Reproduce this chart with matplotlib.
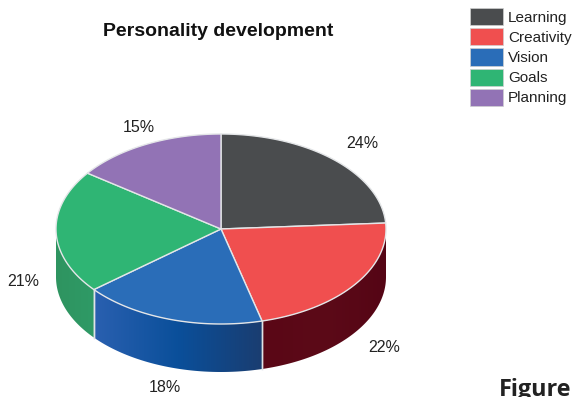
#!/usr/bin/env python3

# 3D looking pie chart, drawn by hand from polygons

import numpy as np
import matplotlib
matplotlib.use('Agg')
import matplotlib.pyplot as plt
from matplotlib.patches import Polygon, Patch
from matplotlib.colors import LinearSegmentedColormap

categories = ['Learning', 'Creativity', 'Vision', 'Goals', 'Planning']
values = [24, 22, 18, 21, 15]
colors = ['#4a4c4e', '#f04f4f', '#2a6db8', '#2fb574', '#9273b5']
# side wall colours, from left to right
side_colors = [['#333333', '#333333'],
               ['#5a0716', '#5c0a18', '#550515'],
               ['#2a60b0', '#0a4f9a', '#1a3d70'],
               ['#2e9460', '#2f9a66'],
               ['#6a5590', '#6a5590']]
pct_labels = ['24%', '22%', '18%', '21%', '15%']

plt.rcParams['font.family'] = ['Liberation Sans', 'DejaVu Sans']

# geometry in pixels
cx, cy = 221, 229
rx, ry = 165, 95
depth = 48

fig = plt.figure(figsize=(5.72, 3.97), dpi=100)
ax = fig.add_axes([0, 0, 1, 1])


def rim(t):
    # t = angle in radians, clockwise from the top
    return cx + rx*np.sin(t), cy - ry*np.cos(t)


fracs = np.array(values) / np.sum(values)
edges = np.concatenate(([0], np.cumsum(fracs))) * 2*np.pi

# side walls, a horizontal gradient clipped to the wall shape
for i in range(len(values)):
    a = max(edges[i], np.pi/2)
    b = min(edges[i+1], 3*np.pi/2)
    if b <= a:
        continue
    x, y = rim(np.linspace(a, b, 100))
    pts = np.column_stack((np.r_[x, x[::-1]], np.r_[y, y[::-1]+depth]))
    wall = Polygon(pts, closed=True, fc='none', ec='none')
    ax.add_patch(wall)
    cmap = LinearSegmentedColormap.from_list('side', side_colors[i])
    grad = np.linspace(0, 1, 256)[None, :]
    im = ax.imshow(grad, cmap=cmap, aspect='auto', zorder=2,
                   extent=[x.min(), x.max(), pts[:, 1].max(), pts[:, 1].min()])
    im.set_clip_path(wall)
    # separator lines at the ends of the wall
    for t in (edges[i], edges[i+1]):
        if np.pi/2 < t < 3*np.pi/2:
            x0, y0 = rim(t)
            ax.plot([x0, x0], [y0, y0+depth], color='#dfe3e6', lw=1, zorder=3)

# top face
for i in range(len(values)):
    tt = np.linspace(edges[i], edges[i+1], 100)
    x, y = rim(tt)
    pts = np.column_stack((np.r_[cx, x], np.r_[cy, y]))
    ax.add_patch(Polygon(pts, closed=True, fc=colors[i], ec='#e4e6e8', lw=1, zorder=4))

ax.set_xlim(0, 572)
ax.set_ylim(397, 0)
ax.axis('off')

# percent labels
label_xy = [(362, 144), (384, 348), (165, 387), (23, 281), (139, 127)]
for s, (x, y) in zip(pct_labels, label_xy):
    ax.text(x, y, s, fontsize=11.5, color='#222222', ha='center', va='center')

ax.text(218.5, 31, 'Personality development', fontsize=14, fontweight='bold',
        color='#111111', ha='center', va='center')

handles = [Patch(fc=c, ec='#cfcfcf', lw=0.5) for c in colors]
ax.legend(handles, categories, loc='upper left', bbox_to_anchor=(470/572, 1 - 8/397),
          frameon=False, fontsize=11, borderpad=0, borderaxespad=0,
          handlelength=2.16, handleheight=1.35, handletextpad=0.33, labelspacing=0.2,
          labelcolor='#222222')

ax.text(499, 396, 'Figure', fontsize=16.8, fontweight='bold', family=['Open Sans', 'DejaVu Sans'],
        color='#222222', ha='left', va='baseline')

fig.savefig('out.png', dpi=100)
